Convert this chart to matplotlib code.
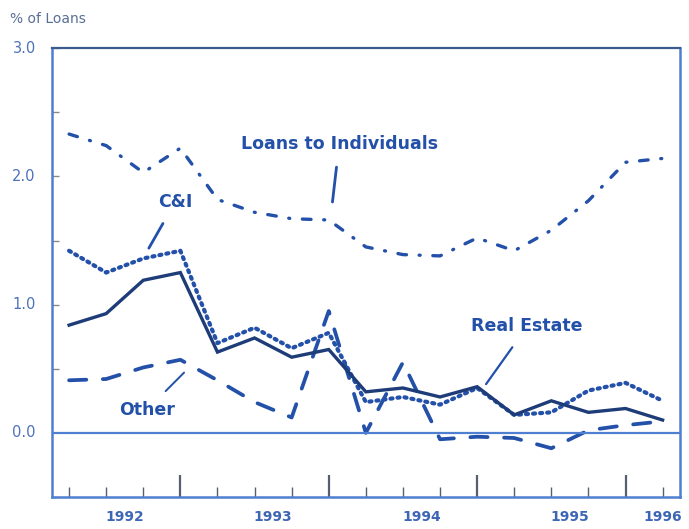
import matplotlib
matplotlib.use("Agg")
import matplotlib.pyplot as plt
import numpy as np
from matplotlib.transforms import blended_transform_factory

# Quarterly data, 1992Q1 .. 1996Q1
quarters = ["92Q1", "92Q2", "92Q3", "92Q4", "93Q1", "93Q2", "93Q3", "93Q4",
            "94Q1", "94Q2", "94Q3", "94Q4", "95Q1", "95Q2", "95Q3", "95Q4", "96Q1"]
real_estate = [0.84, 0.93, 1.19, 1.25, 0.63, 0.74, 0.59, 0.65, 0.32, 0.35, 0.28, 0.36, 0.14, 0.25, 0.16, 0.19, 0.10]
c_and_i = [1.42, 1.25, 1.36, 1.42, 0.70, 0.82, 0.66, 0.78, 0.24, 0.28, 0.22, 0.35, 0.14, 0.16, 0.33, 0.39, 0.25]
individuals = [2.33, 2.24, 2.03, 2.22, 1.82, 1.72, 1.67, 1.66, 1.45, 1.39, 1.38, 1.52, 1.42, 1.58, 1.81, 2.11, 2.14]
other = [0.41, 0.42, 0.51, 0.57, 0.41, 0.24, 0.12, 0.95, 0.00, 0.55, -0.05, -0.03, -0.04, -0.12, 0.02, 0.06, 0.09]
year_labels = ["1992", "1993", "1994", "1995", "1996"]
year_centers = [1.5, 5.5, 9.5, 13.5, 16]
ytick_vals = [0.0, 1.0, 2.0, 3.0]
ytick_labels = ["0.0", "1.0", "2.0", "3.0"]

BLUE = "#2350a8"
NAVY = "#1d3c78"
AXBLUE = "#4f7fd0"
LABBLUE = "#4d72b8"
FONT = "DejaVu Sans"

fig = plt.figure(figsize=(6.89, 5.29), dpi=100)
ax = fig.add_axes([0.0755, 0.0605, 0.9115, 0.8485])
x = np.arange(len(quarters))

ax.plot(x, individuals, color=BLUE, lw=2.4, linestyle=(0, (2.6, 3.8, 0.3, 3.8)),
        dash_capstyle="round", solid_capstyle="round")
ax.plot(x, c_and_i, color=BLUE, lw=3.0, linestyle=(0, (0.5, 1.2)), dash_capstyle="round")
ax.plot(x, other, color=BLUE, lw=2.7, linestyle=(0, (4.6, 4.4)), dash_capstyle="round")
ax.plot(x, real_estate, color=NAVY, lw=2.4, solid_joinstyle="miter")

ax.axhline(0, color=AXBLUE, lw=1.6)

ax.set_xlim(-0.46, 16.47)
ax.set_ylim(-0.5, 3.0)

for s in ["left", "bottom", "right"]:
    ax.spines[s].set_color(AXBLUE)
    ax.spines[s].set_linewidth(1.8)
ax.spines["top"].set_color("#3b5c8f")
ax.spines["top"].set_linewidth(1.6)

ax.set_xticks(x)
ax.set_xticklabels([])
ax.tick_params(axis="x", direction="in", length=7, width=1.0, color="#555f70")
for i, t in enumerate(ax.xaxis.get_major_ticks()):
    if i in (3, 7, 11, 15):
        t.tick1line.set_markersize(16)
        t.tick1line.set_color(BLUE)
        t.tick1line.set_markeredgewidth(1.6)

ax.set_yticks([-0.5, 0.5, 1.0, 1.5, 2.0, 2.5, 3.0])
ax.set_yticklabels([])
ax.tick_params(axis="y", direction="in", length=5, width=1.0, color="#8a8a8a", pad=4)

trans_y = blended_transform_factory(fig.transFigure, ax.transData)
for v, lab in zip(ytick_vals, ytick_labels):
    fig.text(0.052, v, lab, transform=trans_y, ha="right", va="center",
             fontsize=10.5, color=LABBLUE, family=FONT)

fig.text(0.014, 0.965, "% of Loans", fontsize=10, color="#5a6f95", family=FONT, va="center")

trans_x = blended_transform_factory(ax.transData, fig.transFigure)
for c, lab in zip(year_centers, year_labels):
    fig.text(c, 0.022, lab, transform=trans_x, ha="center", va="center",
             fontsize=10, color="#3d66b5", family=FONT, fontweight="bold")

kw = dict(color=BLUE, fontsize=12.5, fontweight="bold", family=FONT, ha="center", va="center")
ax.annotate("Loans to Individuals", xy=(7.1, 1.80), xytext=(7.28, 2.25), **kw,
            arrowprops=dict(arrowstyle="-", color=BLUE, lw=2.0, shrinkA=8, shrinkB=0))
ax.annotate("C&I", xy=(2.15, 1.44), xytext=(2.86, 1.80), **kw,
            arrowprops=dict(arrowstyle="-", color=BLUE, lw=2.0, shrinkA=8, shrinkB=0))
ax.annotate("Real Estate", xy=(11.24, 0.38), xytext=(12.35, 0.83), **kw,
            arrowprops=dict(arrowstyle="-", color=BLUE, lw=1.6, shrinkA=8, shrinkB=0))
ax.annotate("Other", xy=(3.1, 0.47), xytext=(2.10, 0.18), **kw,
            arrowprops=dict(arrowstyle="-", color=BLUE, lw=1.4, shrinkA=7, shrinkB=0))

fig.savefig("out.png", dpi=100)
